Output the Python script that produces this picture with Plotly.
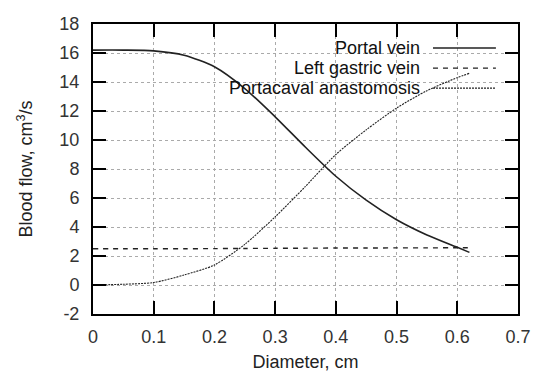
import plotly.graph_objects as go

diameter = [0.0, 0.05, 0.1, 0.15, 0.2, 0.25, 0.3, 0.35, 0.4, 0.45, 0.5, 0.55, 0.6, 0.62]
portal_vein = [16.2, 16.2, 16.15, 15.85, 15.05, 13.55, 11.6, 9.5, 7.5, 5.85, 4.5, 3.45, 2.6, 2.25]
left_gastric = [2.5, 2.5, 2.5, 2.5, 2.51, 2.52, 2.53, 2.54, 2.55, 2.55, 2.56, 2.56, 2.57, 2.57]
portacaval = [0.0, 0.05, 0.17, 0.69, 1.38, 2.8, 4.7, 6.8, 9.0, 10.7, 12.2, 13.4, 14.3, 14.6]

series = [
    ("Portal vein", portal_vein, "solid", 1.6),
    ("Left gastric vein", left_gastric, "5px,5px", 1.4),
    ("Portacaval anastomosis", portacaval, "2px,1px", 1.1),
]

x_ticks = [0, 0.1, 0.2, 0.3, 0.4, 0.5, 0.6, 0.7]
y_ticks = [-2, 0, 2, 4, 6, 8, 10, 12, 14, 16, 18]

FONT = "Liberation Sans, Arial, sans-serif"
FS = 18
fig = go.Figure()
for name, ys, dash, w in series:
    fig.add_trace(go.Scatter(x=diameter, y=ys, mode="lines", name=name,
                             line=dict(color="#222222", width=w, dash=dash, shape="spline", smoothing=0.7),
                             showlegend=False))

# legend drawn gnuplot-style: text right-aligned, sample on the right
legend_y = [0.917, 0.848, 0.779]
for (name, ys, dash, w), ly in zip(series, legend_y):
    fig.add_annotation(text=name, xref="paper", yref="paper", x=0.775, y=ly,
                       xanchor="right", yanchor="middle", showarrow=False,
                       font=dict(size=FS, color="#111111", family=FONT))
    fig.add_shape(type="line", xref="paper", yref="paper", x0=0.80, x1=0.948, y0=ly, y1=ly,
                  line=dict(color="#222222", width=w, dash=dash))

axis_common = dict(showline=True, linecolor="black", linewidth=2, mirror="ticks",
                   ticks="inside", ticklen=13, tickwidth=1.5, tickcolor="black",
                   showgrid=True, gridcolor="#aaaaaa", griddash="dot", gridwidth=1,
                   zeroline=False, automargin=False,
                   tickfont=dict(size=FS, color="#333333", family=FONT))

fig.update_layout(
    width=538, height=372,
    margin=dict(l=93, r=20, t=24, b=58),
    paper_bgcolor="white", plot_bgcolor="white",
    font=dict(family=FONT, size=FS, color="#222222"),
    xaxis=dict(range=[0, 0.7], tickvals=x_ticks, ticktext=[f"{v:g}" for v in x_ticks],
               ticklabelstandoff=5,
               title=dict(text="Diameter, cm", standoff=14, font=dict(size=FS)), **axis_common),
    yaxis=dict(range=[-2, 18], tickvals=y_ticks, ticktext=[str(v) for v in y_ticks],
               ticklabelstandoff=8,
               title=dict(text="Blood flow, cm<sup>3</sup>/s", standoff=22, font=dict(size=FS)), **axis_common),
)

fig.write_html("out.html")
